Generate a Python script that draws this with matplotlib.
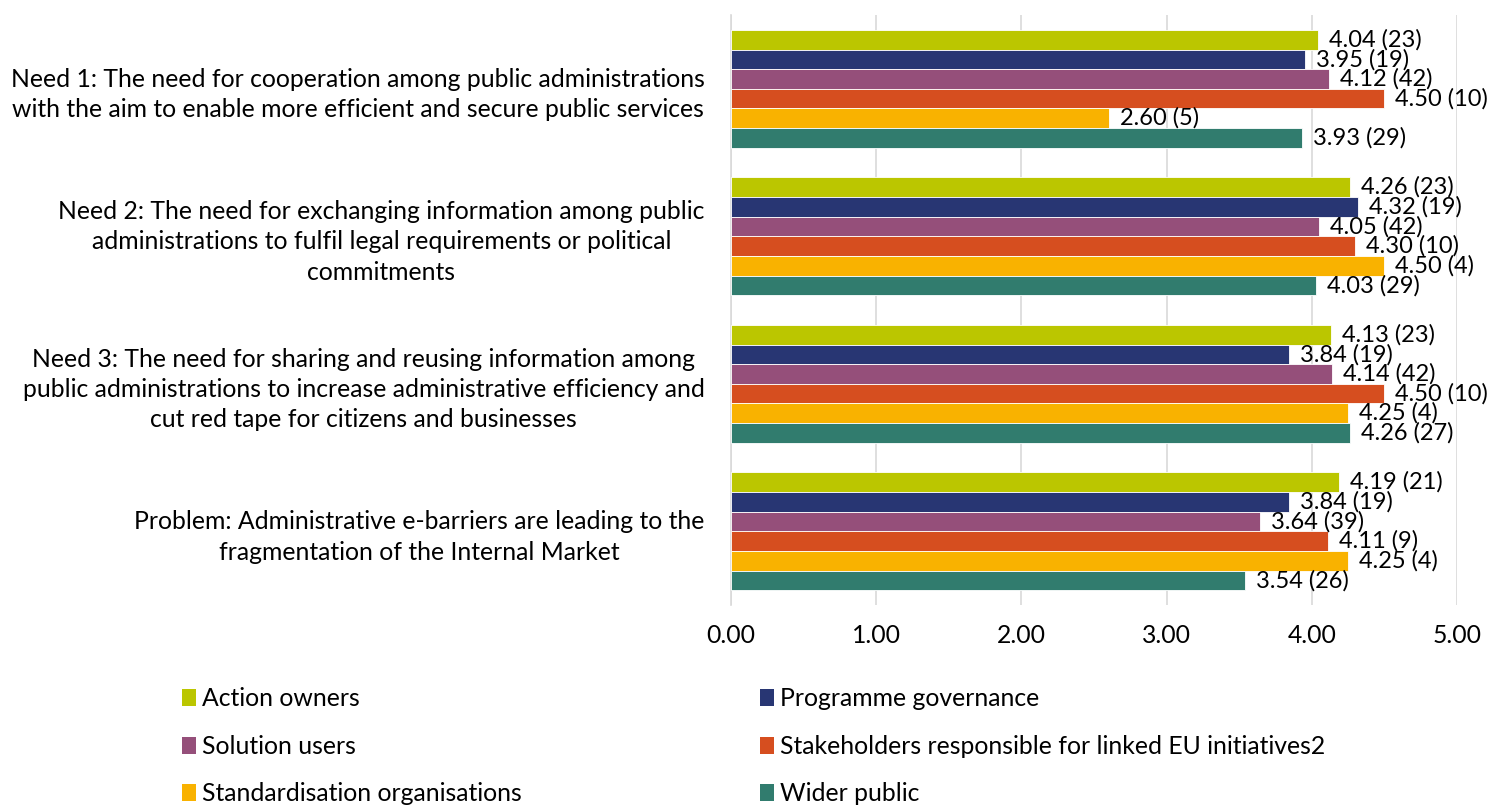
import matplotlib.pyplot as plt
import numpy as np
from matplotlib.patches import Patch

plt.rcParams["font.family"] = ["Lato", "DejaVu Sans"]

categories = [
    "Need 1: The need for cooperation among public administrations\nwith the aim to enable more efficient and secure public services",
    "Need 2: The need for exchanging information among public\nadministrations to fulfil legal requirements or political\ncommitments",
    "Need 3: The need for sharing and reusing information among\npublic administrations to increase administrative efficiency and\ncut red tape for citizens and businesses",
    "Problem: Administrative e-barriers are leading to the\nfragmentation of the Internal Market",
]
groups = [
    "Action owners",
    "Programme governance",
    "Solution users",
    "Stakeholders responsible for linked EU initiatives2",
    "Standardisation organisations",
    "Wider public",
]
colors = ["#BBC600", "#283673", "#954F7A", "#D64E1F", "#F9B200", "#317C6E"]

# mean score per category (rows follow `groups`)
scores = [
    [4.04, 4.26, 4.13, 4.19],
    [3.95, 4.32, 3.84, 3.84],
    [4.12, 4.05, 4.14, 3.64],
    [4.50, 4.30, 4.50, 4.11],
    [2.60, 4.50, 4.25, 4.25],
    [3.93, 4.03, 4.26, 3.54],
]
# number of respondents
counts = [
    [23, 23, 23, 21],
    [19, 19, 19, 19],
    [42, 42, 42, 39],
    [10, 10, 10, 9],
    [5, 4, 4, 4],
    [29, 29, 27, 26],
]

fig = plt.figure(figsize=(14.95, 8.05), dpi=100)
ax = fig.add_axes([0.489, 0.2484, 0.4856, 0.7329])

fs = 17.8
h = 0.133
y = np.arange(len(categories))
for i, (name, color) in enumerate(zip(groups, colors)):
    pos = y + (i - 2.5) * h
    ax.barh(pos, scores[i], height=h, color=color, edgecolor="white", linewidth=0.6, label=name, zorder=3)
    for yy, v, n in zip(pos, scores[i], counts[i]):
        ax.annotate(f"{v:.2f} ({n})", (v, yy), xytext=(11, 0), textcoords="offset pixels",
                    va="center", ha="left", fontsize=17, color="black", zorder=4)

ax.set_xlim(0, 5)
ax.set_ylim(len(categories) - 0.5, -0.5)
ticks = np.arange(0, 5.01, 1)
ax.set_xticks(ticks)
ax.set_xticklabels([f"{t:.2f}" for t in ticks], fontsize=fs)
ax.set_yticks(y)
ax.set_yticklabels(categories, fontsize=fs, ha="right", multialignment="center", linespacing=1.38)
ax.tick_params(axis="y", length=0, pad=19)
ax.tick_params(axis="x", length=0, pad=14)
ax.grid(axis="x", color="#D9D9D9", linewidth=1.2, zorder=0)
for s in ["top", "right", "bottom"]:
    ax.spines[s].set_visible(False)
ax.spines["left"].set_color("#D9D9D9")
ax.spines["left"].set_linewidth(1.2)

# legend filled row by row
order = [0, 2, 4, 1, 3, 5]
handles = [Patch(facecolor=colors[k], edgecolor="none") for k in order]
fig.legend(handles, [groups[k] for k in order], loc="upper left", bbox_to_anchor=(0.122, 0.146),
           ncol=2, frameon=False, fontsize=fs, handlelength=0.55, handleheight=0.7, handletextpad=0.25,
           labelspacing=0.99, columnspacing=9.65, borderpad=0, borderaxespad=0)

fig.savefig("out.png", dpi=100)
